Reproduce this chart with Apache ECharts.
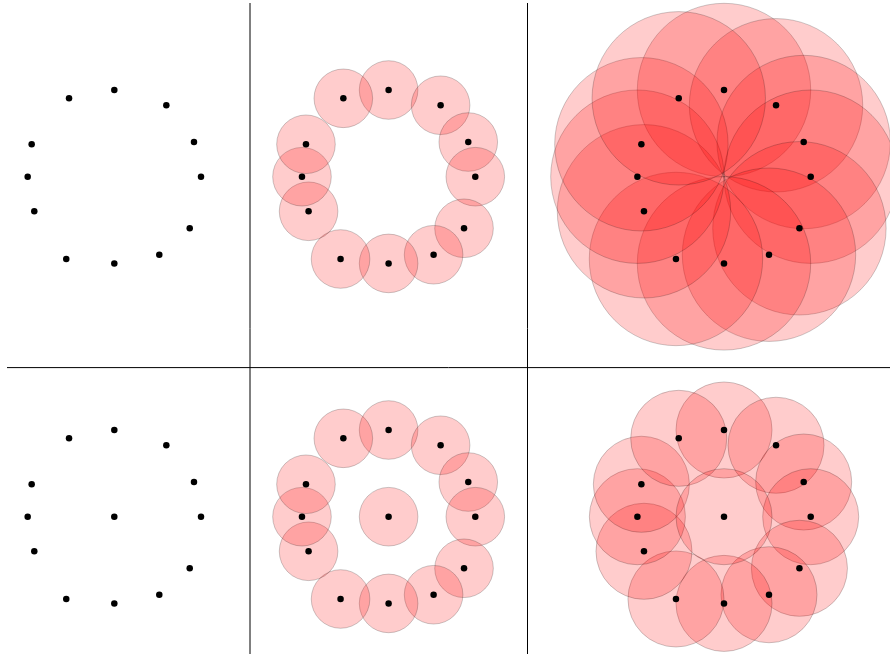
<!DOCTYPE html>
<html>
<head>
<meta charset="utf-8">
<title>Ring layouts</title>
<script src="https://cdn.jsdelivr.net/npm/echarts@6/dist/echarts.min.js"></script>
<style>
  html, body { margin: 0; padding: 0; background: #ffffff; }
  #chart { width: 890px; height: 654px; }
</style>
</head>
<body>
<div id="chart"></div>
<script>
// Node positions on the ring (unit radius ~ 1)
const ringX = [0, 0.600, 0.919, 1.000, 0.870, 0.519, 0, -0.554, -0.923, -0.999, -0.953, -0.522];
const ringY = [1.000, 0.824, 0.400, 0, -0.595, -0.900, -1.000, -0.949, -0.399, 0, 0.374, 0.904];
// Extra hub node used in the lower row
const hubX = [0];
const hubY = [0];
// Circle radius per panel column (data units); 0 = no circle
const topRadii = [0, 0.338, 1.0];
const bottomRadii = [0, 0.338, 0.554];

// Panel geometry: centres in pixels and pixels per data unit
const PX_PER_UNIT = 86.7;
const HALF = 100;
const colCentres = [114.3, 388.6, 724.0];
const rowCentres = [176.7, 516.7];
const RANGE = HALF / PX_PER_UNIT;

function pts(xs, ys) {
  return xs.map((x, i) => [x, ys[i]]);
}
const topPoints = pts(ringX, ringY);
const bottomPoints = pts(ringX.concat(hubX), ringY.concat(hubY));

const grids = [], xAxes = [], yAxes = [], series = [];
let g = 0;
rowCentres.forEach((cy, r) => {
  colCentres.forEach((cx, c) => {
    grids.push({ left: cx - HALF, top: cy - HALF, width: 2 * HALF, height: 2 * HALF });
    xAxes.push({ gridIndex: g, type: 'value', min: -RANGE, max: RANGE, show: false });
    yAxes.push({ gridIndex: g, type: 'value', min: -RANGE, max: RANGE, show: false });
    const data = r === 0 ? topPoints : bottomPoints;
    const rad = (r === 0 ? topRadii : bottomRadii)[c];
    if (rad > 0) {
      series.push({
        type: 'scatter', xAxisIndex: g, yAxisIndex: g, data: data,
        symbol: 'circle', symbolSize: 2 * rad * PX_PER_UNIT, clip: false,
        silent: true, z: 2,
        itemStyle: { color: 'rgba(255,0,0,0.2)', borderColor: 'rgba(0,0,0,0.2)', borderWidth: 1, opacity: 1 }
      });
    }
    series.push({
      type: 'scatter', xAxisIndex: g, yAxisIndex: g, data: data,
      symbol: 'circle', symbolSize: 6.5, clip: false, silent: true, z: 5,
      itemStyle: { color: '#000000', opacity: 1 }
    });
    g++;
  });
});

const chart = echarts.init(document.getElementById('chart'), null, { renderer: 'canvas' });
chart.setOption({
  animation: false,
  backgroundColor: '#ffffff',
  grid: grids,
  xAxis: xAxes,
  yAxis: yAxes,
  series: series,
  graphic: [
    { type: 'line', z: 100, shape: { x1: 250, y1: 3, x2: 250, y2: 654 }, style: { stroke: '#000', lineWidth: 1 } },
    { type: 'line', z: 100, shape: { x1: 527.5, y1: 3, x2: 527.5, y2: 654 }, style: { stroke: '#000', lineWidth: 1 } },
    { type: 'line', z: 100, shape: { x1: 7, y1: 367.6, x2: 890, y2: 367.6 }, style: { stroke: '#000', lineWidth: 1 } }
  ]
});
</script>
</body>
</html>
